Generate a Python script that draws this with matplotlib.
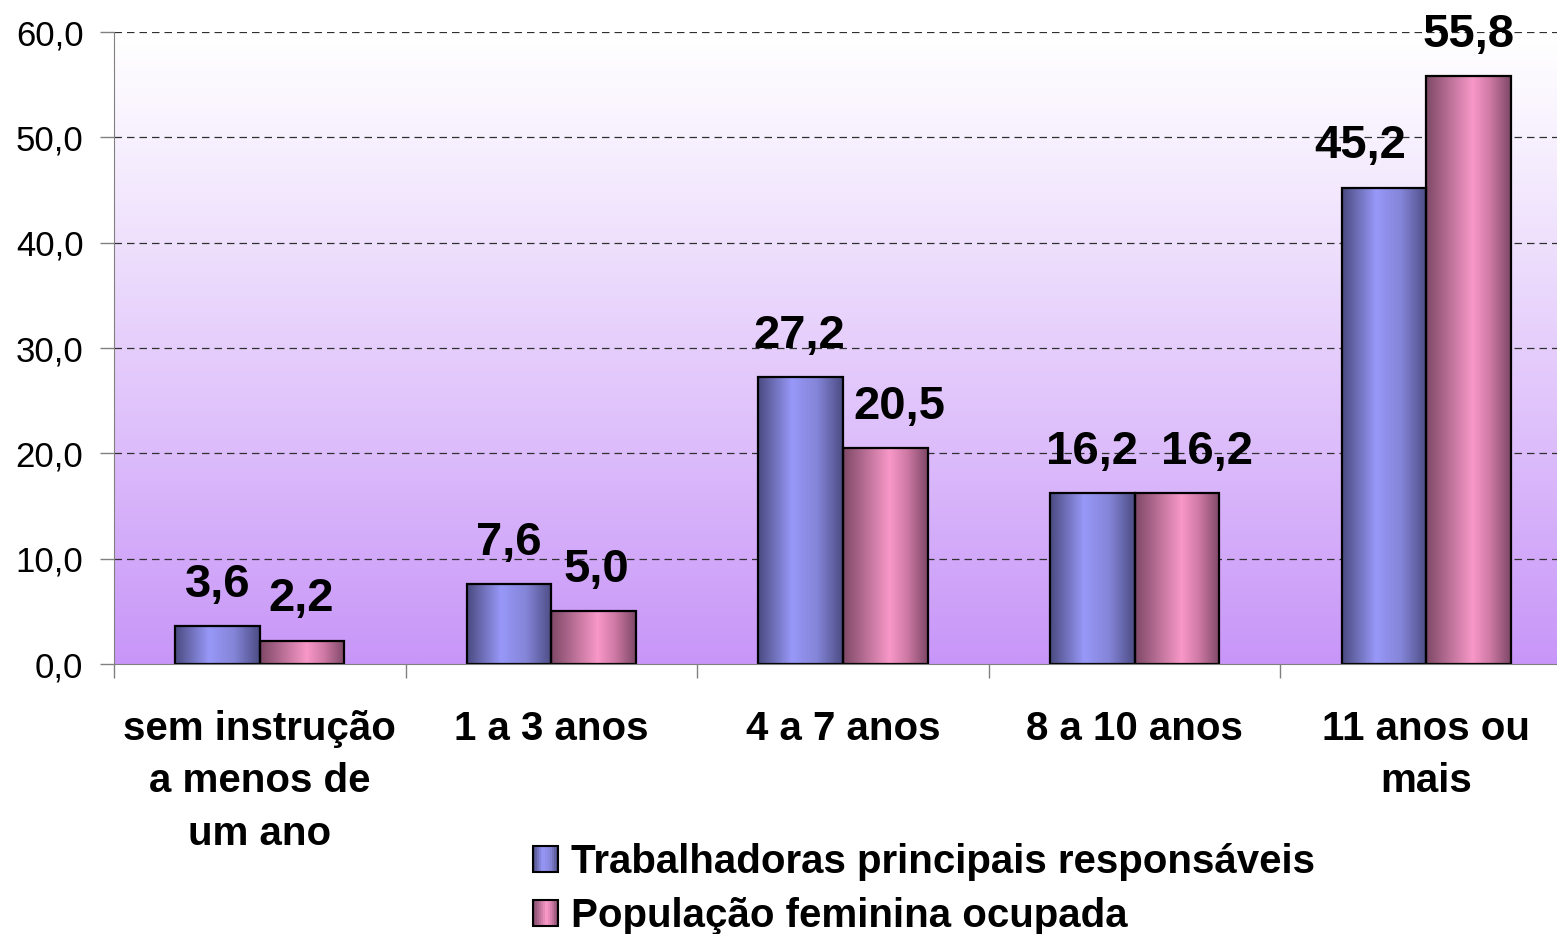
import numpy as np
import matplotlib
matplotlib.use("Agg")
import matplotlib.pyplot as plt
from matplotlib.patches import Rectangle
from matplotlib.colors import LinearSegmentedColormap
from matplotlib.legend_handler import HandlerBase

categories = ["sem instrução\na menos de\num ano", "1 a 3 anos", "4 a 7 anos", "8 a 10 anos", "11 anos ou\nmais"]
trabalhadoras = [3.6, 7.6, 27.2, 16.2, 45.2]
populacao = [2.2, 5.0, 20.5, 16.2, 55.8]
series_names = ["Trabalhadoras principais responsáveis", "População feminina ocupada"]
yticks = [0, 10, 20, 30, 40, 50, 60]

plt.rcParams['font.family'] = ['Liberation Sans', 'DejaVu Sans']

W, H = 1557, 934
fig = plt.figure(figsize=(W / 100, H / 100), dpi=100)
ax = fig.add_axes([114 / W, 1 - 664 / H, 1458 / W, 632 / H])

n = len(categories)
x = np.arange(n)

# background gradient (white at top, purple at bottom)
bg = LinearSegmentedColormap.from_list("bg", ["#FFFFFF", "#C896F8"])
grad = (np.linspace(1, 0, 256) ** 1.1).reshape(-1, 1)
ax.imshow(grad, cmap=bg, aspect="auto", extent=[-0.5, n - 0.5, 0, 60],
          origin="lower", zorder=0, vmin=0, vmax=1)

# grid
for yv in yticks[1:]:
    ax.axhline(yv, color="#303030", lw=0.9, ls=(0, (6, 4)), zorder=1)

blue_cmap = LinearSegmentedColormap.from_list(
    "b", [(0, "#4A4A80"), (0.4, "#9898F8"), (0.7, "#8484D8"), (1.0, "#4C4C84")])
pink_cmap = LinearSegmentedColormap.from_list(
    "p", [(0, "#7E4866"), (0.55, "#F898C8"), (0.75, "#D07AA6"), (1.0, "#7E4866")])

width = 0.29
hgrad = np.linspace(0, 1, 256).reshape(1, -1)


def draw_bars(xs, vals, cmap):
    bars = ax.bar(xs, vals, width=width, facecolor="none", edgecolor="black",
                  linewidth=1.6, zorder=3)
    for b in bars:
        x0 = b.get_x()
        w = b.get_width()
        h = b.get_height()
        ax.imshow(hgrad, cmap=cmap, aspect="auto", extent=[x0, x0 + w, 0, h],
                  zorder=2, interpolation="bilinear")
    return bars


b1 = draw_bars(x - width / 2, trabalhadoras, blue_cmap)
b2 = draw_bars(x + width / 2, populacao, pink_cmap)
ax.set_xlim(-0.5, n - 0.5)
ax.set_ylim(0, 60)

# horizontal label nudges (points) to avoid overlaps, as in the original
nudge1 = [0, 0, -1, 0, -17]
nudge2 = [-1, 2, 10, 22, 0]
for bars, vals, nud in ((b1, trabalhadoras, nudge1), (b2, populacao, nudge2)):
    for b, v, dx in zip(bars, vals, nud):
        ax.annotate(f"{v:.1f}".replace(".", ","),
                    (b.get_x() + b.get_width() / 2, v),
                    xytext=(dx, 14), textcoords="offset points",
                    ha="center", va="bottom", fontsize=34, fontweight="bold",
                    zorder=5)

# axes styling
for s in ["top", "right"]:
    ax.spines[s].set_visible(False)
ax.spines["left"].set_color("#808080")
ax.spines["bottom"].set_color("#808080")
ax.spines["left"].set_zorder(4)
ax.spines["bottom"].set_zorder(4)

ax.set_yticks(yticks)
ax.set_yticklabels([f"{v:.1f}".replace(".", ",") for v in yticks])
ax.tick_params(axis="y", length=10, width=1, color="#808080", pad=12,
               labelsize=25)

ax.set_xticks(x)
ax.set_xticklabels(categories, fontsize=29, fontweight="bold", linespacing=1.48)
ax.set_xticks(np.arange(n + 1) - 0.5, minor=True)
ax.tick_params(axis="x", which="major", length=0, pad=33)
ax.tick_params(axis="x", which="minor", length=10, width=1, color="#808080")


class HandlerGrad(HandlerBase):
    def __init__(self, cmap):
        super().__init__()
        self.cmap = cmap

    def create_artists(self, legend, orig_handle, xdescent, ydescent,
                       width, height, fontsize, trans):
        arts = []
        k = 12
        for i in range(k):
            arts.append(Rectangle((-xdescent + width * i / k, -ydescent),
                                  width / k + 0.3, height,
                                  facecolor=self.cmap((i + 0.5) / k),
                                  edgecolor="none", transform=trans))
        arts.append(Rectangle((-xdescent, -ydescent), width, height,
                              facecolor="none", edgecolor="black", lw=1.5,
                              transform=trans))
        return arts


h1 = Rectangle((0, 0), 1, 1)
h2 = Rectangle((0, 0), 1, 1)
fig.legend([h1, h2], series_names, loc="upper left",
           bbox_to_anchor=(533 / W, 1 - 843 / H), frameon=False,
           prop={"size": 29, "weight": "bold"}, handlelength=0.62,
           handleheight=0.62, handletextpad=0.32, labelspacing=0.4,
           borderpad=0, borderaxespad=0,
           handler_map={h1: HandlerGrad(blue_cmap), h2: HandlerGrad(pink_cmap)})

fig.savefig("out.png", dpi=100)
